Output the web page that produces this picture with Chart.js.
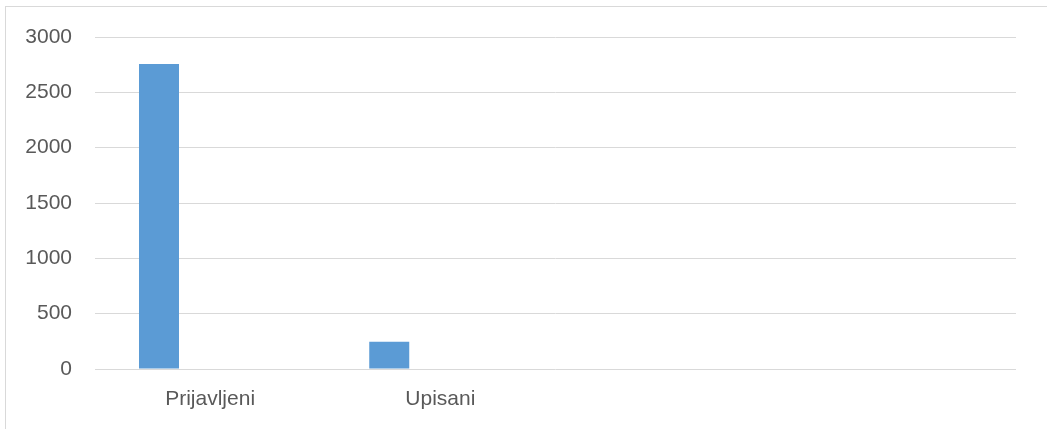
<!DOCTYPE html>
<html>
<head>
<meta charset="utf-8">
<script src="https://cdn.jsdelivr.net/npm/chart.js@4"></script>
<style>
  html, body { margin: 0; padding: 0; background: #ffffff; overflow: hidden; }
  #frame { position: absolute; left: 5px; top: 6px; width: 1100px; height: 500px; border: 1px solid #d9d9d9; }
  #c { position: absolute; left: 0; top: 0; }
</style>
</head>
<body>
<div id="frame"></div>
<canvas id="c" width="1047" height="429"></canvas>
<script>
const categories = ['Prijavljeni', 'Upisani', '', ''];
const series1 = [2755, 247, null, null];
const series2 = [null, null, null, null];
const series3 = [null, null, null, null];
const yTicks = [0, 500, 1000, 1500, 2000, 2500, 3000];

const barColor = '#5b9bd5';
const textColor = '#595959';
const gridColor = '#d9d9d9';
const fontSpec = { family: '"Liberation Sans", Arial, sans-serif', size: 21 };

new Chart(document.getElementById('c'), {
  type: 'bar',
  data: {
    labels: categories,
    datasets: [
      { data: series1, backgroundColor: barColor, categoryPercentage: 0.6661, barPercentage: 0.7825 },
      { data: series2, backgroundColor: barColor, categoryPercentage: 0.6661, barPercentage: 0.7825 },
      { data: series3, backgroundColor: barColor, categoryPercentage: 0.6661, barPercentage: 0.7825 }
    ]
  },
  options: {
    responsive: false,
    animation: false,
    layout: { padding: { left: 0, right: 31, top: 37, bottom: 0 } },
    plugins: { legend: { display: false }, tooltip: { enabled: false } },
    scales: {
      x: {
        grid: { display: false, drawTicks: false },
        border: { display: false },
        ticks: { color: textColor, font: fontSpec, padding: 18, maxRotation: 0, autoSkip: false },
        afterFit: (s) => { s.height = 60; }
      },
      y: {
        min: 0,
        max: 3000,
        afterBuildTicks: (s) => { s.ticks = yTicks.map(v => ({ value: v })); },
        grid: { color: gridColor, lineWidth: 1, drawTicks: false },
        border: { display: false },
        ticks: { color: textColor, font: fontSpec, padding: 23, callback: (v) => String(v) },
        afterFit: (s) => { s.width = 95; }
      }
    }
  }
});
</script>
</body>
</html>
